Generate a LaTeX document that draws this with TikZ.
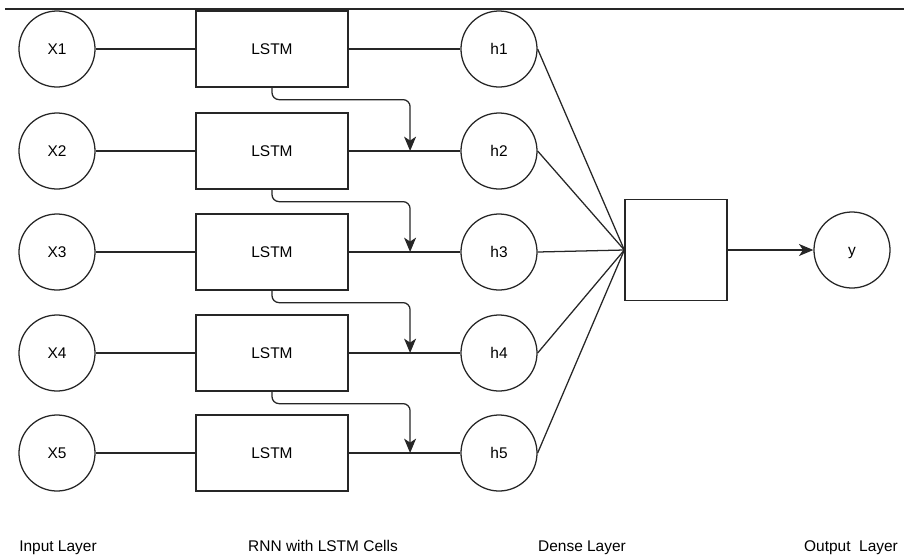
\documentclass[tikz,border=0pt]{standalone}
\usepackage{fontspec}
\setmainfont{Liberation Sans}
\usetikzlibrary{positioning,arrows.meta,calc}
\newcommand{\figfont}{\fontsize{11}{13}\selectfont}
\tikzset{
  unitnode/.style={circle, draw, minimum size=1.9cm, inner sep=0pt, font=\figfont,
    text height=1.6ex, text depth=0.2ex},
  cellbox/.style={draw, minimum width=3.8cm, minimum height=1.9cm, font=\figfont},
  densebox/.style={draw, minimum width=2.55cm, minimum height=2.525cm},
  netarrow/.style={-{Stealth[length=3.6mm, width=3mm, inset=1mm]}},
  layerlabel/.style={font=\figfont, anchor=base},
}

\begin{document}
\begin{tikzpicture}[x=0.025cm, y=-0.025cm, line width=0.9pt, draw=black!85]
  \useasboundingbox (0,0) rectangle (904,555);
  \coordinate (topl) at (5,9);
  \coordinate (topr) at (904,9);
  \draw (topl) -- (topr);
  % input, lstm and hidden rows
  \foreach \i/\y in {1/49,2/151,3/252,4/353,5/453} {
    \node[unitnode] (x\i) at (57,\y) {X\i};
    \node[cellbox] (l\i) at (272,\y) {LSTM};
    \node[unitnode] (h\i) at (499,\y) {h\i};
    \draw (x\i) -- (l\i);
    \draw (l\i) -- (h\i);
  }
  \foreach \i/\j in {1/2,2/3,3/4,4/5}
    \draw[netarrow, rounded corners=5pt] (l\i.south) -- ++(0,12) -| ($(l\j.east)!0.55!(h\j.west)$);
  % dense and output
  \node[densebox] (dense) at (676,250) {};
  \node[unitnode] (y) at (852,250) {y};
  \foreach \i in {1,...,5}
    \draw (h\i.east) -- (dense.west);
  \draw[netarrow] (dense) -- (y);
  \node[layerlabel] (inlab) at (58,551) {Input Layer};
  \node[layerlabel] (rnnlab) at (323,551) {RNN with LSTM Cells};
  \node[layerlabel] (denselab) at (582,551) {Dense Layer};
  \node[layerlabel] (outlab) at (851,551) {Output\ \ Layer};
\end{tikzpicture}
\end{document}
